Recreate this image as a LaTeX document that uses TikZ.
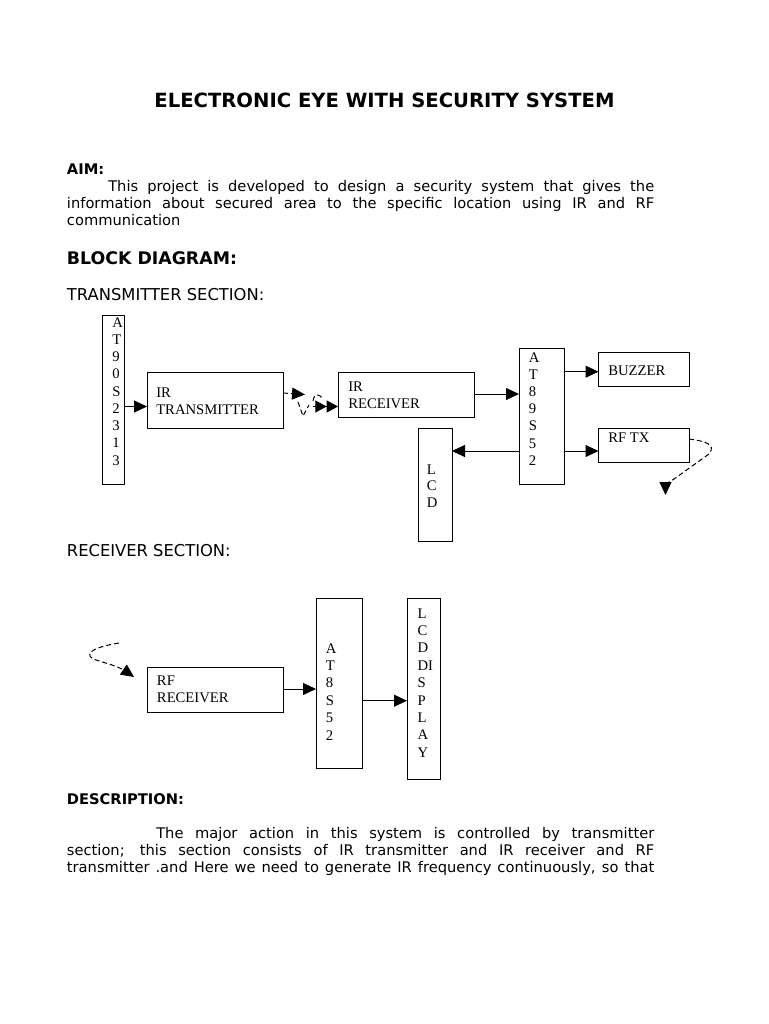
\documentclass[tikz,border=0pt]{standalone}
\usepackage{fontspec}
\setmainfont{DejaVu Sans}
\newfontfamily\diagfont{Liberation Serif}
\usetikzlibrary{arrows.meta}
\newcommand\blockbox[5]{\node[blk, minimum width={(#4-#2)*0.75pt}, minimum height={(#5-#3)*0.75pt}] (#1) at (#2,#3) {};}
\begin{document}
\begin{tikzpicture}[x=0.75pt,y=-0.75pt,
  blk/.style={draw, line width=0.75pt, anchor=north west, inner sep=0pt, outer sep=0pt},
  conn/.style={line width=0.75pt, -{Triangle[length=9.75pt,width=9pt]}},
  conntwo/.style={line width=0.75pt, -{Triangle[length=8.5pt,width=9pt]Triangle[length=8.5pt,width=9pt]}},
  wave/.style={line width=0.75pt, dash pattern=on 3.75pt off 2.25pt},
  lbl/.style={anchor=base west, inner sep=0pt, font=\diagfont\fontsize{11pt}{12.9pt}\selectfont},
  body/.style={anchor=base west, inner sep=0pt, font=\fontsize{11pt}{12.8pt}\selectfont},
  headb/.style={anchor=base west, inner sep=0pt, font=\bfseries\fontsize{11pt}{13pt}\selectfont},
  headr/.style={anchor=base west, inner sep=0pt, font=\fontsize{12.25pt}{14pt}\selectfont}]
\useasboundingbox (0,0) rectangle (768,1024);
\fill[white] (0,0) rectangle (768,1024);

% ---------- texts ----------
\node[anchor=base, inner sep=0pt, font=\bfseries\fontsize{14.7pt}{17pt}\selectfont] (title) at (384.5,108) {ELECTRONIC EYE WITH SECURITY SYSTEM};
\node[headb] (aimh) at (66.7,174.5) {AIM:};
\node[body] (aim1) at (108,191.5) {\makebox[409.5pt][s]{This project is developed to design a security system that gives the}};
\node[body] (aim2) at (66.7,208.5) {\makebox[440.5pt][s]{information about secured area to the specific location using IR and RF}};
\node[body] (aim3) at (66.7,225.5) {communication};
\node[anchor=base west, inner sep=0pt, font=\bfseries\fontsize{13pt}{15pt}\selectfont] (bdh) at (66.7,264) {BLOCK DIAGRAM:};
\node[headr] (txh) at (66.7,300) {TRANSMITTER SECTION:};
\node[headr] (rxh) at (66.7,556) {RECEIVER SECTION:};
\node[headb] (desch) at (66.7,804.5) {DESCRIPTION:};
\node[body] (desc1) at (156,838.5) {\makebox[373.5pt][s]{The major action in this system is controlled by transmitter}};
\node[body] (desc2) at (66.7,855.5) {\makebox[440.5pt][s]{section; this section consists of IR transmitter and IR receiver and RF}};
\node[body] (desc3) at (66.7,872.5) {\makebox[440.5pt][s]{transmitter .and Here we need to generate IR frequency continuously, so that}};

% ---------- transmitter boxes ----------
\blockbox{at90}{102}{315}{124}{484}
\blockbox{irtx}{147}{372}{283}{428}
\blockbox{irrx}{338}{372}{474}{417}
\blockbox{at89}{519}{348}{564.5}{484}
\blockbox{buzzer}{598.5}{352}{689}{386}
\blockbox{rftx}{598.5}{428}{689}{462}
\blockbox{lcd}{418}{428}{452}{541.5}

\foreach \ch [count=\k from 0] in {A,T,9,0,S,2,3,1,3}
  \node[lbl] (at90l\k) at (112,{327+\k*17.25}) {\ch};
\foreach \ch [count=\k from 0] in {A,T,8,9,S,5,2}
  \node[lbl] (at89l\k) at (528.5,{362+\k*17.2}) {\ch};
\foreach \ch [count=\k from 0] in {L,C,D}
  \node[lbl] (lcdl\k) at (426.7,{474+\k*16.5}) {\ch};

\node[lbl] (irtxa) at (156,397.3) {IR};
\node[lbl] (irtxb) at (156,414) {TRANSMITTER};
\node[lbl] (irrxa) at (348,391) {IR};
\node[lbl] (irrxb) at (348,408.3) {RECEIVER};
\node[lbl] (buzt) at (608,375) {BUZZER};
\node[lbl] (rftxt) at (608,442) {RF TX};

% ---------- transmitter connectors ----------
\draw[conn] (at90.east |- 0,406.5) -- (irtx.west |- 0,406.5);
\draw[conn] (irrx.east |- 0,394) -- (at89.west |- 0,394);
\draw[conn] (at89.east |- 0,371.7) -- (buzzer.west |- 0,371.7);
\draw[conn] (at89.east |- 0,451) -- (rftx.west |- 0,451);
\draw[conn] (at89.west |- 0,451) -- (lcd.east |- 0,451);

% IR signal
\coordinate (irsigA) at (305,394.5);
\coordinate (irsigB) at (313,406.5);
\coordinate (irvA) at (298,402);
\coordinate (irvB) at (303,416);
\coordinate (irvC) at (309,405);
\coordinate (iraA) at (313,401);
\coordinate (iraB) at (323,400);
\draw[conn, wave] (irtx.east |- 0,393) -- (irsigA);
\draw[wave] (irvA) -- (irvB) -- (irvC);
\draw[wave] (iraA) .. controls (314,393) and (320,393) .. (iraB);
\draw[conntwo] (irsigB) -- (irrx.west |- 0,406.5);

% RF TX signal
\coordinate (rftxout) at (665.5,495);
\draw[wave, -{Triangle[length=9.75pt,width=9pt]}] (rftx.east |- 0,439)
  .. controls (704,441) and (717,444) .. (709,454) -- (674,479)
  .. controls (668,483) and (665.5,484) .. (rftxout);

% ---------- receiver ----------
\blockbox{rfrx}{147}{667}{283}{712}
\blockbox{at8s}{316}{598}{362}{768}
\blockbox{lcdd}{407}{598}{440}{779}

\node[lbl] (rfrxa) at (156.7,685) {RF};
\node[lbl] (rfrxb) at (156.7,702.5) {RECEIVER};
\foreach \ch [count=\k from 0] in {A,T,8,S,5,2}
  \node[lbl] (at8sl\k) at (325.5,{653+\k*17.4}) {\ch};
\foreach \ch [count=\k from 0] in {L,C,D,DI,S,P,L,A,Y}
  \node[lbl] (lcddl\k) at (417.3,{618+\k*17.4}) {\ch};

\draw[conn] (rfrx.east |- 0,689) -- (at8s.west |- 0,689);
\draw[conn] (at8s.east |- 0,700.7) -- (lcdd.west |- 0,700.7);

\coordinate (rfinA) at (119,643);
\coordinate (rfinB) at (134,677);
\draw[wave, -{Triangle[length=9.75pt,width=9pt]}] (rfinA)
  .. controls (100,646) and (82,652) .. (93,659) -- (112,665)
  .. controls (118,667) and (124,670) .. (rfinB);
\end{tikzpicture}
\end{document}
